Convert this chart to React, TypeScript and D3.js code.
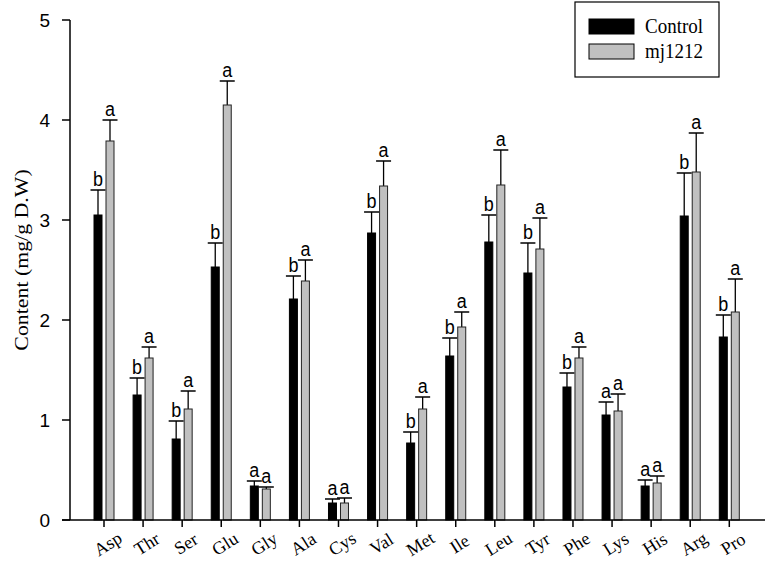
import React from "react";
import * as d3 from "d3";

const categories = ["Asp","Thr","Ser","Glu","Gly","Ala","Cys","Val","Met","Ile","Leu","Tyr","Phe","Lys","His","Arg","Pro"];
const controlMean = [3.05,1.25,0.81,2.53,0.34,2.21,0.17,2.87,0.77,1.64,2.78,2.47,1.33,1.05,0.34,3.04,1.83];
const controlUpper = [3.30,1.42,0.99,2.77,0.39,2.44,0.21,3.08,0.88,1.82,3.05,2.77,1.47,1.18,0.40,3.47,2.05];
const mjMean = [3.79,1.62,1.11,4.15,0.31,2.39,0.17,3.34,1.11,1.93,3.35,2.71,1.62,1.09,0.37,3.48,2.08];
const mjUpper = [4.00,1.73,1.29,4.39,0.33,2.60,0.22,3.59,1.23,2.08,3.70,3.02,1.73,1.26,0.44,3.87,2.41];
const controlLetters = ["b","b","b","b","a","b","a","b","b","b","b","b","b","a","a","b","b"];
const mjLetters = ["a","a","a","a","a","a","a","a","a","a","a","a","a","a","a","a","a"];
const yTicks = [0,1,2,3,4,5];
const seriesNames = ["Control","mj1212"];

export default function App() {
  const W = 767, H = 562;
  const x = d3.scalePoint<string>().domain(categories).range([104, 729.3]);
  const y = d3.scaleLinear().domain([0, 5]).range([520, 20]);
  const barW = 8, off = 6, capW = 15;
  const series = [
    { mean: controlMean, upper: controlUpper, letters: controlLetters, fill: "#000000", stroke: "#000000", dx: -off },
    { mean: mjMean, upper: mjUpper, letters: mjLetters, fill: "#c0c0c0", stroke: "#222222", dx: off },
  ];
  return (
    <svg width={W} height={H} style={{ position: "absolute", left: 0, top: 0, background: "#fff" }}>
      {series.map((s, si) => (
        <g key={si}>
          {categories.map((c, i) => {
            const cx = (x(c) as number) + s.dx;
            const yt = y(s.mean[i]);
            const yu = y(s.upper[i]);
            return (
              <g key={c}>
                <line x1={cx} x2={cx} y1={yt} y2={yu} stroke="#000" strokeWidth={1.3} />
                <line x1={cx - capW / 2} x2={cx + capW / 2} y1={yu} y2={yu} stroke="#000" strokeWidth={1.5} />
                <rect x={cx - barW / 2} y={yt} width={barW} height={y(0) - yt} fill={s.fill} stroke={s.stroke} strokeWidth={1} />
                <text transform={`translate(${cx},${yu - 4}) scale(1,1.12)`} textAnchor="middle" fontFamily="Liberation Sans, Arial, sans-serif" fontSize={18}>{s.letters[i]}</text>
              </g>
            );
          })}
        </g>
      ))}
      {/* y axis */}
      <line x1={70} x2={70} y1={y(5)} y2={y(0)} stroke="#000" strokeWidth={1.5} />
      {yTicks.map((t) => (
        <g key={t}>
          <line x1={62} x2={70} y1={y(t)} y2={y(t)} stroke="#000" strokeWidth={1.5} />
          <text x={50} y={y(t) + 7} textAnchor="end" fontFamily="Liberation Sans, Arial, sans-serif" fontSize={19}>{t}</text>
        </g>
      ))}
      {/* x axis */}
      <line x1={62} x2={765} y1={y(0)} y2={y(0)} stroke="#000" strokeWidth={1.5} />
      {categories.map((c) => (
        <g key={c}>
          <line x1={x(c) as number} x2={x(c) as number} y1={y(0)} y2={y(0) + 7} stroke="#000" strokeWidth={1.5} />
          <text transform={`translate(${(x(c) as number) + 7},${549}) rotate(-32)`} textAnchor="middle" fontFamily="Liberation Serif, Times New Roman, serif" fontSize={18}>{c}</text>
        </g>
      ))}
      <text transform="translate(28,260) rotate(-90) scale(1.15,1)" textAnchor="middle" fontFamily="Liberation Serif, Times New Roman, serif" fontSize={19}>Content (mg/g D.W)</text>
      {/* legend */}
      <rect x={575} y={2} width={144} height={75} fill="#fff" stroke="#000" strokeWidth={1.2} />
      {seriesNames.map((n, i) => (
        <g key={n}>
          <rect x={589} y={19 + i * 25} width={45} height={15} fill={series[i].fill} stroke="#000" strokeWidth={1} />
          <text transform={`translate(645,${33 + i * 25}) scale(1,1.1)`} fontFamily="Liberation Serif, Times New Roman, serif" fontSize={19}>{n}</text>
        </g>
      ))}
    </svg>
  );
}
